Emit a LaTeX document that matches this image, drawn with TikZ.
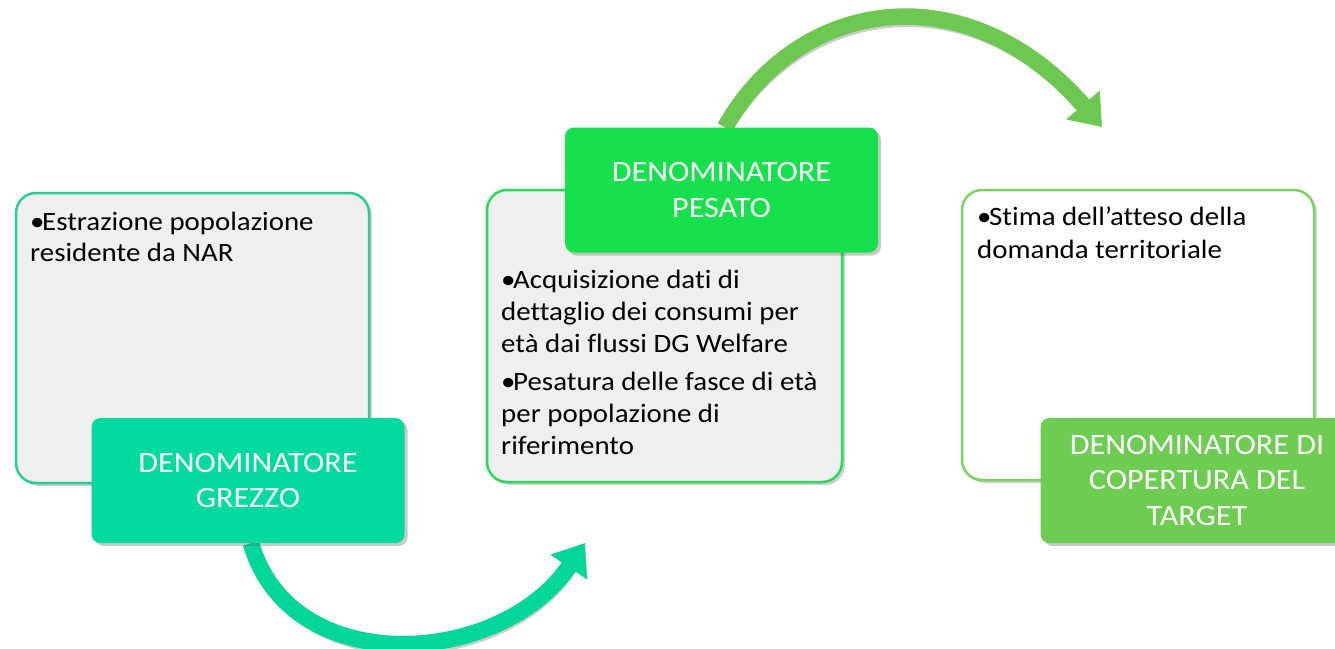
\documentclass[tikz,border=0pt]{standalone}
\usepackage{fontspec}
\setmainfont[FakeStretch=1.09,Ligatures=NoCommon]{Carlito}
\usetikzlibrary{arrows.meta,shadows,backgrounds}
\definecolor{labA}{RGB}{0,218,158}
\definecolor{labB}{RGB}{22,224,76}
\definecolor{labC}{RGB}{110,204,82}
\definecolor{bordA}{RGB}{40,204,150}
\definecolor{bordB}{RGB}{40,218,90}
\definecolor{bordC}{RGB}{126,208,96}
\definecolor{arrA}{RGB}{0,214,152}
\definecolor{arrC}{RGB}{108,200,80}
\definecolor{panelgray}{RGB}{239,239,239}
\newlength\bulw \setlength\bulw{12pt}
\newcommand\bitem[1]{\par\hangindent=\bulw\hangafter=1\noindent\makebox[\bulw][l]{\strut\textbullet}#1}
\newenvironment{bodybox}{\begin{minipage}[t]{340pt}\raggedright}{\end{minipage}}
\tikzset{
  panel/.style={rectangle, rounded corners=20pt, line width=2.5pt, inner sep=0pt,
    drop shadow={shadow xshift=3pt, shadow yshift=-3pt, opacity=0.3, fill=black!60}},
  labelbox/.style={rectangle, rounded corners=9pt, inner sep=0pt, text=white,
    align=center, font=\fontsize{29.5}{35.5}\selectfont,
    minimum width=313pt, minimum height=125pt,
    drop shadow={shadow xshift=3pt, shadow yshift=-3pt, opacity=0.35, fill=black!60}},
  bodytext/.style={anchor=north west, inner sep=0pt, text=black},
  bigarrow/.style={line width=16.5pt, -{Triangle[width=42pt,length=29pt]}},
}
\begin{document}
\begin{tikzpicture}[x=1pt,y=-1pt]
\useasboundingbox (0,0) rectangle (1335,648);
\begin{scope}[on background layer]
\fill[white] (0,0) rectangle (1335,648);
\end{scope}
% panels
\node[panel, draw=bordA, fill=panelgray, minimum width=353pt, minimum height=290pt] (p1) at (192.5,338) {};
\node[panel, draw=bordB, fill=panelgray, minimum width=355pt, minimum height=292pt] (p2) at (664.5,336) {};
\node[panel, draw=bordC, fill=white, minimum width=352pt, minimum height=290pt] (p3) at (1138,335) {};
% body texts
\node[bodytext, font=\fontsize{26.5}{31.7}\selectfont] (t1) at (30,207.8)
  {\begin{bodybox}\bitem{Estrazione popolazione\\residente da NAR}\end{bodybox}};
\node[bodytext, font=\fontsize{26.5}{32}\selectfont] (t2) at (501,265.9)
  {\begin{bodybox}\bitem{Acquisizione dati di\\dettaglio dei consumi per\\età dai flussi DG Welfare}\par\vspace{6pt}\bitem{Pesatura delle fasce di età\\per popolazione di\\riferimento}\end{bodybox}};
\node[bodytext, font=\fontsize{26.5}{33}\selectfont] (t3) at (977,201.9)
  {\begin{bodybox}\bitem{Stima dell’atteso della\\domanda territoriale}\end{bodybox}};
% arrow end points
\coordinate (e1) at (585,543);
\coordinate (e2) at (1102,127);
% label boxes
\node[labelbox, fill=labA] (l1) at (248,480.5) {DENOMINATORE\\GREZZO};
\node[labelbox, fill=labB] (l2) at (721.5,190) {DENOMINATORE\\PESATO};
\node[labelbox, fill=labC] (l3) at (1197,480.5) {DENOMINATORE DI\\COPERTURA DEL\\TARGET};
% arrows (behind label boxes)
\begin{scope}[on background layer]
\draw[bigarrow, draw=black!20, shift={(2.5,3)}]
  ([xshift=3pt]l1.south) .. controls (290,680) and (500,668) .. (e1);
\draw[bigarrow, draw=arrA]
  ([xshift=3pt]l1.south) .. controls (290,680) and (500,668) .. (e1);
\draw[bigarrow, draw=black!20, shift={(2.5,3)}]
  ([xshift=3.5pt]l2.north) .. controls (800,-5) and (969,-27) .. (e2);
\draw[bigarrow, draw=arrC]
  ([xshift=3.5pt]l2.north) .. controls (800,-5) and (969,-27) .. (e2);
\end{scope}
\end{tikzpicture}
\end{document}
